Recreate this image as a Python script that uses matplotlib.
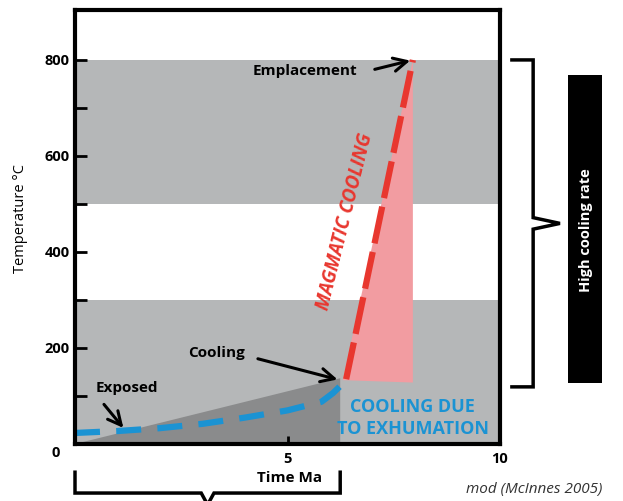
import matplotlib
matplotlib.use("Agg")
import matplotlib.pyplot as plt
from matplotlib.patches import Polygon, Rectangle
import matplotlib.transforms as mtransforms

plt.rcParams['font.family'] = ['Open Sans', 'DejaVu Sans']

# ---- data ----
band_ranges = [(0, 300), (500, 800)]          # gray temperature bands (°C)
exhum_time = [0.0, 6.24, 6.24]                 # dark gray exhumation wedge
exhum_temp = [0, 137, 0]
magma_fill_time = [6.3, 7.95, 7.95]            # pink magmatic wedge
magma_fill_temp = [133, 800, 128]
magma_time = [6.38, 7.95]                      # red dashed magmatic cooling path
magma_temp = [135, 800]
blue_time = [0.0, 1.0, 2.0, 3.0, 4.0, 5.0, 5.8, 6.07, 6.35]
blue_temp = [23, 27, 33, 42, 55, 70, 88, 106, 130]
yticks_major = [0, 200, 400, 600, 800]
ytick_labels = ['', '200', '400', '600', '800']
yticks_minor = [100, 300, 500, 700]
xticks = [5, 10]
xtick_labels = ['5', '10']
bracket_temp = (119, 800)

RED = '#e8372f'
BLUE = '#1b93d3'
LGRAY = '#b5b7b8'
DGRAY = '#8a8b8c'
PINK = '#f29ca1'

fig = plt.figure(figsize=(6.23, 5.01), dpi=100)
ax = fig.add_axes([75/623, 57/501, 425/623, 434/501])
ax.set_xlim(0, 10)
ax.set_ylim(0, 904)

for lo, hi in band_ranges:
    ax.axhspan(lo, hi, color=LGRAY, lw=0, zorder=0)

ax.add_patch(Polygon(list(zip(exhum_time, exhum_temp)), closed=True,
                     facecolor=DGRAY, edgecolor='none', zorder=1))
ax.add_patch(Polygon(list(zip(magma_fill_time, magma_fill_temp)), closed=True,
                     facecolor=PINK, edgecolor='none', zorder=1))

ln, = ax.plot(magma_time, magma_temp, color=RED, lw=4.5, zorder=3,
              solid_capstyle='butt')
ln.set_dashes([6, 1.4])
bl, = ax.plot(blue_time, blue_temp, color=BLUE, lw=4.5, zorder=3,
              solid_capstyle='butt')
bl.set_dashes([4, 2.6])

for s in ax.spines.values():
    s.set_linewidth(3)
    s.set_zorder(5)

ax.set_yticks(yticks_major)
ax.set_yticklabels(ytick_labels, fontsize=10.5, fontweight='bold')
ax.set_yticks(yticks_minor, minor=True)
ax.tick_params(axis='y', which='both', direction='in', length=8.5, width=2, pad=4)
ax.set_xticks(xticks)
ax.set_xticklabels(xtick_labels, fontsize=10.5, fontweight='bold')
ax.tick_params(axis='x', direction='in', length=6, width=2, pad=6)
ax.text(-0.045, -0.02, '0', transform=ax.transAxes, fontsize=10.5, fontweight='bold',
        ha='center', va='center')

ax.set_ylabel('Temperature °C', fontsize=10.5)
ax.yaxis.set_label_coords(-0.111, 0.52)

# annotations
arrow_kw = dict(arrowstyle='->', lw=2.2, color='black', mutation_scale=24)
ax.annotate('', xy=(7.95, 800), xytext=(6.99, 779), arrowprops=arrow_kw, zorder=4)
ax.text(5.41, 777, 'Emplacement', fontsize=11, fontweight='bold', ha='center', va='center')
ax.annotate('', xy=(6.24, 133), xytext=(4.24, 179), arrowprops=arrow_kw, zorder=4)
ax.text(3.34, 190, 'Cooling', fontsize=11, fontweight='bold', ha='center', va='center')
ax.annotate('', xy=(1.18, 29), xytext=(0.64, 87), arrowprops=arrow_kw, zorder=4)
ax.text(1.22, 117, 'Exposed', fontsize=11, fontweight='bold', ha='center', va='center')

ax.text(6.35, 462, 'MAGMATIC COOLING', color=RED, fontsize=13.5, fontweight='bold',
        fontstyle='italic', rotation=76, ha='center', va='center', rotation_mode='anchor')
ax.text(7.95, 54, 'COOLING DUE\nTO EXHUMATION', color=BLUE, fontsize=13,
        fontweight='bold', ha='center', va='center', linespacing=1.3, zorder=4)

tb = mtransforms.blended_transform_factory(ax.transData, ax.transAxes)
ax.text(5.04, -0.078, 'Time Ma', transform=tb,
        fontsize=11, fontweight='bold', ha='center', va='center')

# bottom bracket
x0, x1 = exhum_time[0], exhum_time[1]
xm = (x0 + x1) / 2
ax.plot([x0, x0, xm - 0.15, xm, xm + 0.15, x1, x1],
        [-0.065, -0.113, -0.113, -0.14, -0.113, -0.113, -0.065],
        transform=tb, color='black', lw=2.5, clip_on=False, solid_joinstyle='miter')

# right bracket
tr = mtransforms.blended_transform_factory(ax.transAxes, ax.transData)
y0, y1 = bracket_temp
ym = (y0 + y1) / 2
ax.plot([1.028, 1.078, 1.078, 1.141, 1.078, 1.078, 1.028],
        [y1, y1, ym + 12, ym, ym - 12, y0, y0],
        transform=tr, color='black', lw=2.5, clip_on=False, solid_joinstyle='miter')
ax.add_patch(Rectangle((1.16, 127), 0.08, 642, transform=tr, facecolor='black',
                       edgecolor='none', clip_on=False))
ax.text(1.202, 446, 'High cooling rate', transform=tr, color='white', fontsize=10.5,
        fontweight='bold', rotation=90, ha='center', va='center')

fig.text(534/623, 1 - 490/501, 'mod (McInnes 2005)', fontsize=11, fontstyle='italic',
         color='#333333', ha='center', va='center')

fig.savefig('out.png', dpi=100)
